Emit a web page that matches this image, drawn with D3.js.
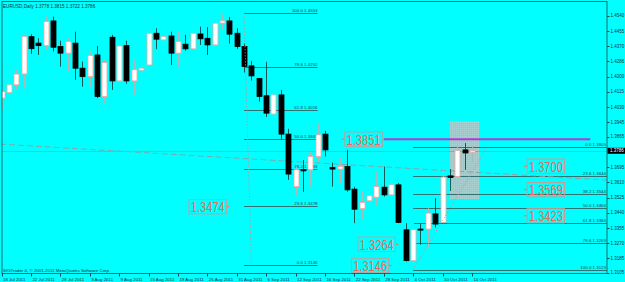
<!DOCTYPE html>
<html><head><meta charset="utf-8">
<script src="https://cdn.jsdelivr.net/npm/d3@7"></script>
<style>html,body{margin:0;padding:0;background:#00ffff;overflow:hidden}</style>
</head><body><svg id="c" width="625" height="282"></svg>
<script>
const symbolTitle = "EURUSD,Daily  1.3778 1.3815 1.3722 1.3786";
const copyright = "SIGTrader 4, \u00A9 2001-2011 MetaQuotes Software Corp.";

// daily bars 18 Jul 2011 .. 14 Oct 2011 (index 0..64)
const opens  = [1.4080,1.4111,1.4154,1.4215,1.4423,1.4387,1.4373,1.4511,1.4368,1.4331,
                1.4387,1.4247,1.4200,1.4321,1.4089,1.4420,1.4176,1.4373,1.4176,1.4236,
                1.4265,1.4442,1.4405,1.4427,1.4331,1.4381,1.4355,1.4438,1.4414,1.4377,
                1.4499,1.4511,1.4442,1.4368,1.4260,1.4189,1.4093,1.3991,1.4098,1.3879,
                1.3586,1.3680,1.3680,1.3754,1.3879,1.3693,1.3684,1.3698,1.3572,1.3464,
                1.3507,1.3527,1.3583,1.3540,1.3596,1.3345,1.3173,1.3349,1.3349,1.3434,
                1.3386,1.3646,1.3642,1.3791,1.3778];
const highs  = [1.4126,1.4215,1.4238,1.4433,1.4437,1.4414,1.4535,1.4535,1.4401,1.4414,
                1.4451,1.4284,1.4345,1.4371,1.4297,1.4433,1.4387,1.4401,1.4293,1.4293,
                1.4470,1.4470,1.4517,1.4451,1.4451,1.4433,1.4498,1.4479,1.4476,1.4505,
                1.4549,1.4533,1.4470,1.4387,1.4288,1.4193,1.4283,1.4148,1.4126,1.3909,
                1.3698,1.3735,1.3782,1.3936,1.3897,1.3720,1.3745,1.3791,1.3585,1.3558,
                1.3614,1.3667,1.3698,1.3680,1.3607,1.3382,1.3391,1.3382,1.3466,1.3522,
                1.3695,1.3684,1.3829,1.3829,1.3815];
const lows   = [1.4014,1.4065,1.4130,1.4135,1.4327,1.4321,1.4349,1.4340,1.4256,1.4228,
                1.4182,1.4144,1.4141,1.4081,1.4053,1.4126,1.4163,1.4160,1.4098,1.4144,
                1.4247,1.4353,1.4321,1.4265,1.4256,1.4345,1.4331,1.4377,1.4321,1.4331,
                1.4465,1.4384,1.4355,1.4223,1.4178,1.4060,1.3975,1.3975,1.3847,1.3624,
                1.3540,1.3557,1.3586,1.3726,1.3754,1.3586,1.3605,1.3558,1.3382,1.3401,
                1.3363,1.3484,1.3531,1.3522,1.3382,1.3168,1.3146,1.3262,1.3243,1.3358,
                1.3382,1.3562,1.3635,1.3680,1.3722];
const closes = [1.4117,1.4154,1.4214,1.4423,1.4356,1.4373,1.4507,1.4364,1.4331,1.4395,
                1.4247,1.4200,1.4317,1.4089,1.4278,1.4176,1.4371,1.4176,1.4238,1.4247,
                1.4442,1.4409,1.4423,1.4331,1.4395,1.4355,1.4442,1.4411,1.4377,1.4498,
                1.4511,1.4437,1.4368,1.4256,1.4204,1.4089,1.3996,1.4098,1.3879,1.3656,
                1.3680,1.3674,1.3754,1.3875,1.3791,1.3684,1.3698,1.3568,1.3460,1.3497,
                1.3535,1.3586,1.3540,1.3596,1.3386,1.3173,1.3345,1.3345,1.3438,1.3377,
                1.3639,1.3637,1.3787,1.3774,1.3786];

const dateLabels = ["18 Jul 2011","22 Jul 2011","28 Jul 2011","3 Aug 2011","9 Aug 2011","15 Aug 2011",
                    "19 Aug 2011","25 Aug 2011","31 Aug 2011","6 Sep 2011","12 Sep 2011","16 Sep 2011",
                    "22 Sep 2011","28 Sep 2011","4 Oct 2011","10 Oct 2011","14 Oct 2011"];
const dateLabelBars = [0,4,8,12,16,20,24,28,32,36,40,44,48,52,56,60,64];
const priceTicks = [1.4540,1.4455,1.4370,1.4286,1.4200,1.4115,1.4030,1.3945,1.3865,
                    1.3695,1.3610,1.3525,1.3440,1.3355,1.3270,1.3185,1.3105];
const currentPrice = 1.3786;

const fib1Levels = [100.0, 78.6, 61.8, 50.0, 38.2, 23.6, 0.0];
const fib1Prices = [1.4553, 1.3146];      // high, low
const fib1Bars = [33, 43, 34];            // start, end, second anchor
const fib2Levels = [0.0, 23.6, 38.2, 50.0, 61.8, 78.6, 100.0];
const fib2Prices = [1.3805, 1.3123];      // high, low
const fib2Bars = [56, 66];                // low anchor, high anchor

const priceLabels = [1.3851, 1.3700, 1.3569, 1.3423, 1.3474, 1.3264, 1.3146];
const priceLabelBars = [46.3, 71.1, 71.1, 71.1, 31.0, 54.0, 53.1];
const priceLabelSides = ["right","right","right","right","left","left","left"];

const magentaLevel = 1.3851;
const magentaBars = [52, 80.1];
const trendBars = [0, 64];
const trendPrices = [1.3823, 1.3667];
const zoneBars = [61, 65];
const zonePrices = [1.3517, 1.3952];

// ---------------------------------------------------------------
const svg = d3.select("#c");
const P = {left: 2, right: 607, top: 1.5, bottom: 273.5};
const x = d3.scaleLinear().domain([0, 64]).range([1.5, 471.9]);
const y = d3.scaleLinear().domain([1.3105, 1.4540]).range([272.8, 15.7]);
const tiny = "'Liberation Sans', Arial, sans-serif";

svg.append("rect").attr("width", 625).attr("height", 282).attr("fill", "#00ffff");
const defs = svg.append("defs");
defs.append("clipPath").attr("id", "pc").append("rect")
  .attr("x", P.left).attr("y", P.top).attr("width", P.right - P.left).attr("height", P.bottom - P.top);
const pat = defs.append("pattern").attr("id", "dots").attr("width", 2).attr("height", 2)
  .attr("patternUnits", "userSpaceOnUse");
pat.append("rect").attr("width", 2).attr("height", 2).attr("fill", "#9acaca");
pat.append("rect").attr("width", 1).attr("height", 1).attr("fill", "#aad2d2");
const g = svg.append("g").attr("clip-path", "url(#pc)");

// zone rectangle
g.append("rect")
  .attr("x", x(zoneBars[0])).attr("y", y(zonePrices[1]))
  .attr("width", x(zoneBars[1]) - x(zoneBars[0]))
  .attr("height", y(zonePrices[0]) - y(zonePrices[1]))
  .attr("fill", "url(#dots)");

// fib 1
const fib1 = fib1Levels.map(l => ({l, p: fib1Prices[1] + (fib1Prices[0] - fib1Prices[1]) * l / 100}));
g.selectAll(".f1").data(fib1).enter().append("line")
  .attr("x1", x(fib1Bars[0])).attr("x2", x(fib1Bars[1]))
  .attr("y1", d => Math.round(y(d.p)) + 0.5).attr("y2", d => Math.round(y(d.p)) + 0.5)
  .attr("stroke", "#2f7373").attr("stroke-width", 1);
g.selectAll(".f1t").data(fib1).enter().append("text")
  .attr("x", x(fib1Bars[1])).attr("y", d => Math.round(y(d.p)) - 0.8)
  .attr("text-anchor", "end").attr("font-family", tiny).attr("font-size", 4.4)
  .attr("fill", "#1d4a4a").text(d => d.l.toFixed(1) + " " + d.p.toFixed(4));

// fib 2
const fib2 = fib2Levels.map(l => ({l, p: fib2Prices[0] - (fib2Prices[0] - fib2Prices[1]) * l / 100}));
g.selectAll(".f2").data(fib2).enter().append("line")
  .attr("x1", x(fib2Bars[0])).attr("x2", P.right)
  .attr("y1", d => Math.round(y(d.p)) + 0.5).attr("y2", d => Math.round(y(d.p)) + 0.5)
  .attr("stroke", "#2f7373").attr("stroke-width", 1);
g.selectAll(".f2t").data(fib2).enter().append("text")
  .attr("x", P.right - 1).attr("y", d => Math.round(y(d.p)) - 0.8)
  .attr("text-anchor", "end").attr("font-family", tiny).attr("font-size", 4.4)
  .attr("fill", "#1d4a4a").text(d => d.l.toFixed(1) + " " + d.p.toFixed(4));

// dashed trendline (ray, extended across the plot)
const slope = (trendPrices[1] - trendPrices[0]) / (trendBars[1] - trendBars[0]);
const tx0 = x.invert(0), tx1 = x.invert(P.right);
g.append("line")
  .attr("x1", 0).attr("y1", y(trendPrices[0] + slope * (tx0 - trendBars[0])))
  .attr("x2", P.right).attr("y2", y(trendPrices[0] + slope * (tx1 - trendBars[0])))
  .attr("stroke", "#80a8a8").attr("stroke-width", 1).attr("stroke-dasharray", "6,3");

// bid line
g.append("line").attr("x1", 0).attr("x2", P.right)
  .attr("y1", Math.round(y(currentPrice)) + 0.5).attr("y2", Math.round(y(currentPrice)) + 0.5)
  .attr("stroke", "#6cb6b6").attr("stroke-width", 1);

// magenta level
g.append("line").attr("x1", x(magentaBars[0])).attr("x2", x(magentaBars[1]))
  .attr("y1", y(magentaLevel)).attr("y2", y(magentaLevel))
  .attr("stroke", "#b03ad8").attr("stroke-width", 2);

// candles
const bars = d3.range(opens.length).map(i => ({i, o: opens[i], h: highs[i], l: lows[i], c: closes[i]}));
const cg = g.selectAll(".cd").data(bars).enter().append("g");
cg.append("line")
  .attr("x1", d => Math.round(x(d.i)) + 0.5).attr("x2", d => Math.round(x(d.i)) + 0.5)
  .attr("y1", d => y(d.h)).attr("y2", d => y(d.l))
  .attr("stroke", d => d.c >= d.o ? "#a6bcbc" : "#0d5858").attr("stroke-width", 1);
cg.append("rect")
  .attr("x", d => Math.round(x(d.i)) - 2)
  .attr("y", d => y(Math.max(d.o, d.c)))
  .attr("width", 5)
  .attr("height", d => Math.max(1, Math.abs(y(d.o) - y(d.c))))
  .attr("fill", d => d.c >= d.o ? "#ffffff" : "#000000")
  .attr("stroke", d => d.c >= d.o ? "#f0a8a0" : "#000000").attr("stroke-width", 0.8);

// dotted fib diagonals
g.append("line")
  .attr("x1", x(fib1Bars[0])).attr("y1", y(fib1Prices[0]))
  .attr("x2", x(fib1Bars[2])).attr("y2", y(fib1Prices[1]))
  .attr("stroke", "#e08080").attr("stroke-width", 1).attr("stroke-dasharray", "1,2");
g.append("line")
  .attr("x1", x(fib2Bars[0])).attr("y1", y(fib2Prices[1]))
  .attr("x2", x(fib2Bars[1])).attr("y2", y(fib2Prices[0]))
  .attr("stroke", "#e08080").attr("stroke-width", 1).attr("stroke-dasharray", "1,2");

// price labels (not clipped)
const BW = 37.4, BH = 14.4, TL = 3;
const pl = priceLabels.map((p, k) => ({p, b: priceLabelBars[k], s: priceLabelSides[k]}));
const lg = svg.selectAll(".pl").data(pl).enter().append("g");
lg.append("line")
  .attr("x1", d => x(d.b)).attr("x2", d => d.s === "right" ? x(d.b) + TL : x(d.b) - TL)
  .attr("y1", d => y(d.p)).attr("y2", d => y(d.p))
  .attr("stroke", "#f07060").attr("stroke-width", 1);
lg.append("rect")
  .attr("x", d => d.s === "right" ? x(d.b) + TL : x(d.b) - TL - BW)
  .attr("y", d => y(d.p) - BH / 2).attr("width", BW).attr("height", BH)
  .attr("fill", "none").attr("stroke", "#c0a098").attr("stroke-width", 1);
lg.append("text")
  .attr("x", d => (d.s === "right" ? x(d.b) + TL : x(d.b) - TL - BW) + 1.8)
  .attr("y", d => y(d.p) + 5.4)
  .attr("font-family", "'Liberation Sans', Arial, sans-serif").attr("font-size", 15)
  .attr("textLength", 34).attr("lengthAdjust", "spacingAndGlyphs")
  .attr("fill", "#ee6a58").text(d => d.p.toFixed(4));

// header & copyright
svg.append("text").attr("x", 3).attr("y", 7.6).attr("font-family", tiny).attr("font-size", 4.6)
  .attr("fill", "#0d3535").text(symbolTitle);
svg.append("text").attr("x", 3).attr("y", 271.5).attr("font-family", tiny).attr("font-size", 4.4)
  .attr("fill", "#0d3535").text(copyright);

// frame
svg.append("rect").attr("x", P.left).attr("y", P.top).attr("width", P.right - P.left)
  .attr("height", P.bottom - P.top).attr("fill", "none").attr("stroke", "#1f6a6a").attr("stroke-width", 1);

// price axis
const ya = svg.append("g");
ya.selectAll("line").data(priceTicks).enter().append("line")
  .attr("x1", P.right).attr("x2", P.right + 2.5)
  .attr("y1", d => Math.round(y(d)) + 0.5).attr("y2", d => Math.round(y(d)) + 0.5)
  .attr("stroke", "#1f4a4a");
ya.selectAll("text").data(priceTicks).enter().append("text")
  .attr("x", 610.5).attr("y", d => y(d) + 1.6)
  .attr("font-family", tiny).attr("font-size", 4.5).attr("fill", "#0d3535")
  .text(d => d.toFixed(4));
svg.append("rect").attr("x", 607.5).attr("y", y(currentPrice) - 3).attr("width", 17.5).attr("height", 6)
  .attr("fill", "#000");
svg.append("text").attr("x", 610).attr("y", y(currentPrice) + 1.6)
  .attr("font-family", tiny).attr("font-size", 4.5).attr("fill", "#ffffff").text(currentPrice.toFixed(4));

// time axis
const xa = svg.append("g");
const xd = dateLabels.map((t, k) => ({t, b: dateLabelBars[k]}));
xa.selectAll("line").data(xd).enter().append("line")
  .attr("x1", d => Math.round(x(d.b)) + 0.5).attr("x2", d => Math.round(x(d.b)) + 0.5)
  .attr("y1", P.bottom).attr("y2", P.bottom + 3).attr("stroke", "#1f4a4a");
xa.selectAll("text").data(xd).enter().append("text")
  .attr("x", d => x(d.b) + 1.5).attr("y", 280.5)
  .attr("font-family", tiny).attr("font-size", 4.4).attr("fill", "#0d3535")
  .text(d => d.t);
</script></body></html>
